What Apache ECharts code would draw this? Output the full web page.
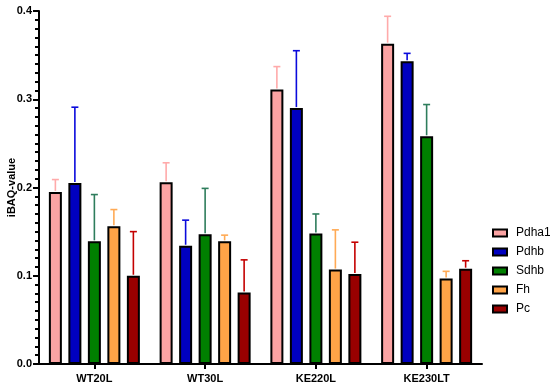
<!DOCTYPE html>
<html>
<head>
<meta charset="utf-8">
<script src="https://cdn.jsdelivr.net/npm/echarts@6/dist/echarts.min.js"></script>
<style>html,body{margin:0;padding:0;background:#fff;}#c{width:550px;height:390px;}</style>
</head>
<body>
<div id="c"></div>
<script>
var categories = ['WT20L', 'WT30L', 'KE220L', 'KE230LT'];
var seriesNames = ['Pdha1', 'Pdhb', 'Sdhb', 'Fh', 'Pc'];
var Pdha1 = [0.195, 0.206, 0.311, 0.363];
var Pdhb  = [0.205, 0.134, 0.290, 0.343];
var Sdhb  = [0.139, 0.147, 0.148, 0.258];
var Fh    = [0.156, 0.139, 0.107, 0.097];
var Pc    = [0.100, 0.081, 0.102, 0.108];
var Pdha1Err = [0.209, 0.228, 0.337, 0.394];
var PdhbErr  = [0.291, 0.163, 0.355, 0.352];
var SdhbErr  = [0.192, 0.199, 0.170, 0.294];
var FhErr    = [0.175, 0.146, 0.152, 0.105];
var PcErr    = [0.150, 0.118, 0.138, 0.117];
var yTicks = [0.0, 0.1, 0.2, 0.3, 0.4];

var values = [Pdha1, Pdhb, Sdhb, Fh, Pc];
var errs = [Pdha1Err, PdhbErr, SdhbErr, FhErr, PcErr];
var fillColors = ['#FBA3A3', '#0000C0', '#008000', '#FFA347', '#990000'];
var errColors = ['#FFAAAA', '#0A0ADC', '#2E7D5C', '#FFAA55', '#C40000'];

var BAR_W = 13, BAR_GAP = 0.5;
var pitch = BAR_W * (1 + BAR_GAP);

var series = [];
values.forEach(function (vals, i) {
  series.push({
    name: seriesNames[i],
    type: 'bar',
    data: vals,
    barWidth: BAR_W,
    barGap: (BAR_GAP * 100) + '%',
    itemStyle: { color: fillColors[i], borderColor: '#000', borderWidth: 2 },
    z: 2
  });
});
values.forEach(function (vals, i) {
  var data = vals.map(function (v, k) { return [k, v, errs[i][k]]; });
  series.push({
    type: 'custom',
    name: seriesNames[i] + '_err',
    data: data,
    z: 3,
    silent: true,
    renderItem: function (params, api) {
      var k = api.value(0);
      var p0 = api.coord([k, api.value(1)]);
      var p1 = api.coord([k, api.value(2)]);
      var x = p0[0] + (i - 2) * pitch;
      var y0 = p0[1] - 1, y1 = p1[1];
      var style = { stroke: errColors[i], lineWidth: 1.6 };
      return {
        type: 'group',
        children: [
          { type: 'line', shape: { x1: x, y1: y0, x2: x, y2: y1 }, style: style },
          { type: 'line', shape: { x1: x - 3.5, y1: y1, x2: x + 3.5, y2: y1 }, style: style }
        ]
      };
    }
  });
});

var chart = echarts.init(document.getElementById('c'), null, { renderer: 'canvas' });
chart.setOption({
  animation: false,
  backgroundColor: '#fff',
  textStyle: { fontFamily: 'Liberation Sans, Arial, sans-serif' },
  grid: { left: 39, right: 68, top: 11, bottom: 26, outerBoundsMode: 'none', containLabel: false },
  legend: {
    orient: 'vertical',
    left: 492,
    top: 226,
    padding: 0,
    data: seriesNames,
    icon: 'rect',
    itemWidth: 14,
    itemHeight: 7,
    itemGap: 5,
    textStyle: { fontSize: 12, color: '#000', lineHeight: 14, padding: [0, 0, 0, 4], fontFamily: 'Liberation Sans, Arial, sans-serif' }
  },
  xAxis: {
    type: 'category',
    data: categories,
    axisLine: { lineStyle: { color: '#000', width: 2 } },
    axisTick: { show: true, alignWithLabel: true, length: 5, lineStyle: { color: '#000', width: 2 } },
    axisLabel: { color: '#000', fontWeight: 'bold', fontSize: 11, margin: 9 }
  },
  yAxis: {
    type: 'value',
    min: yTicks[0],
    max: yTicks[yTicks.length - 1],
    interval: 0.1,
    name: 'iBAQ-value',
    nameLocation: 'middle',
    nameGap: 22,
    nameMoveOverlap: false,
    nameTextStyle: { color: '#000', fontWeight: 'bold', fontSize: 11 },
    axisLine: { show: true, lineStyle: { color: '#000', width: 2 } },
    axisTick: { show: true, inside: false, length: 6, lineStyle: { color: '#000', width: 2 } },
    minorTick: { show: true, splitNumber: 10, length: 4, lineStyle: { color: '#000', width: 2 } },
    splitLine: { show: false },
    axisLabel: {
      color: '#000', fontWeight: 'bold', fontSize: 11, margin: 7,
      formatter: function (v) { return v.toFixed(1); }
    }
  },
  series: series
});
</script>
</body>
</html>
